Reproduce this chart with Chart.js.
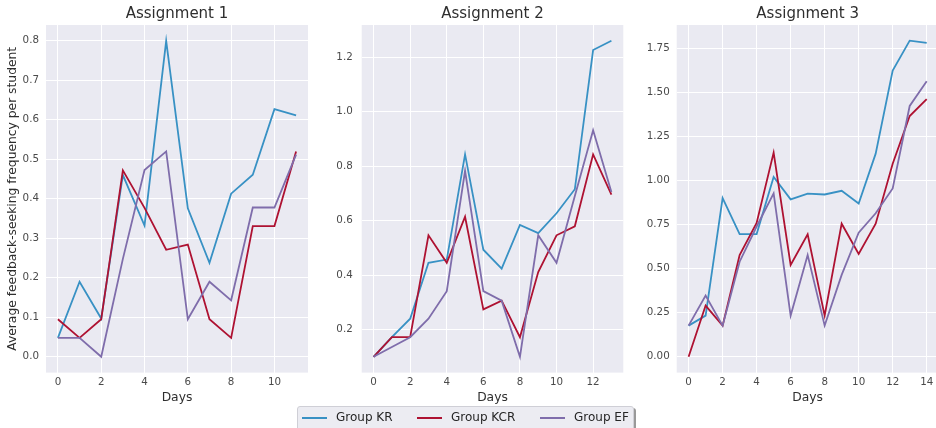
<!DOCTYPE html>
<html>
<head>
<meta charset="utf-8">
<script src="https://cdn.jsdelivr.net/npm/chart.js@4/dist/chart.umd.min.js"></script>
<style>
  html, body { margin: 0; padding: 0; background: #fff; }
  body { width: 936px; height: 428px; overflow: hidden; position: relative; font-family: "DejaVu Sans", sans-serif; }
  canvas { position: absolute; top: 0; }
  #legend {
    position: absolute; left: 297px; top: 406px; width: 335px; height: 30px;
    background: #ececf2; border: 1px solid #cfcfd6; border-radius: 3px;
    box-shadow: 2px 2px 0 rgba(0,0,0,0.4);
  }
  .item { position: absolute; top: 0; height: 22px; }
  .swatch { position: absolute; top: 10px; width: 25px; height: 0; border-top: 2px solid; }
  .label { position: absolute; top: 3px; left: 34px; font-size: 12px; color: #262626; white-space: nowrap; line-height: 14px; }
</style>
</head>
<body>
<canvas id="c1" width="320" height="410" style="left:0px"></canvas>
<canvas id="c2" width="320" height="410" style="left:310px"></canvas>
<canvas id="c3" width="310" height="410" style="left:630px"></canvas>
<div id="legend"></div>
<script>
// Daily average feedback-seeking frequency per student, by group
const seriesNames = ["Group KR", "Group KCR", "Group EF"];
const seriesColors = ["#3891C4", "#AE1232", "#7F6DAB"];

// Assignment 1 (days 0-11)
const days1 = [0, 1, 2, 3, 4, 5, 6, 7, 8, 9, 10, 11];
const kr1  = [0.048, 0.19, 0.097, 0.46, 0.332, 0.80, 0.376, 0.238, 0.413, 0.461, 0.627, 0.611];
const kcr1 = [0.095, 0.048, 0.095, 0.472, 0.377, 0.271, 0.284, 0.095, 0.048, 0.331, 0.331, 0.52];
const ef1  = [0.048, 0.048, 0.0, 0.248, 0.473, 0.52, 0.095, 0.19, 0.143, 0.378, 0.378, 0.512];

// Assignment 2 (days 0-13)
const days2 = [0, 1, 2, 3, 4, 5, 6, 7, 8, 9, 10, 11, 12, 13];
const kr2  = [0.10, 0.172, 0.24, 0.445, 0.457, 0.843, 0.493, 0.424, 0.584, 0.554, 0.627, 0.715, 1.226, 1.26];
const kcr2 = [0.10, 0.172, 0.172, 0.546, 0.445, 0.614, 0.274, 0.306, 0.172, 0.411, 0.546, 0.579, 0.843, 0.695];
const ef2  = [0.10, 0.136, 0.172, 0.24, 0.341, 0.783, 0.341, 0.306, 0.10, 0.546, 0.445, 0.69, 0.932, 0.705];

// Assignment 3 (days 0-14)
const days3 = [0, 1, 2, 3, 4, 5, 6, 7, 8, 9, 10, 11, 12, 13, 14];
const kr3  = [0.177, 0.234, 0.902, 0.697, 0.697, 1.022, 0.894, 0.927, 0.922, 0.943, 0.871, 1.154, 1.626, 1.796, 1.784];
const kcr3 = [0.0, 0.291, 0.177, 0.578, 0.76, 1.16, 0.522, 0.696, 0.234, 0.756, 0.584, 0.756, 1.097, 1.368, 1.464];
const ef3  = [0.177, 0.348, 0.177, 0.54, 0.74, 0.928, 0.234, 0.578, 0.177, 0.465, 0.705, 0.815, 0.956, 1.425, 1.566];

// Tick labels
const xTicks1 = [0, 2, 4, 6, 8, 10];
const xTicks2 = [0, 2, 4, 6, 8, 10, 12];
const xTicks3 = [0, 2, 4, 6, 8, 10, 12, 14];
const yTicks1 = [0.0, 0.1, 0.2, 0.3, 0.4, 0.5, 0.6, 0.7, 0.8];
const yTicks2 = [0.2, 0.4, 0.6, 0.8, 1.0, 1.2];
const yTicks3 = [0.0, 0.25, 0.5, 0.75, 1.0, 1.25, 1.5, 1.75];

const titles = ["Assignment 1", "Assignment 2", "Assignment 3"];
const xTitle = "Days";
const yTitle = "Average feedback-seeking frequency per student";

const FONT = "'DejaVu Sans', sans-serif";
const TICK_COLOR = "#4a4a4a";
const TEXT_COLOR = "#2e2e2e";

const panelBackground = {
  id: "panelBackground",
  beforeDraw(chart) {
    const { ctx, chartArea: a } = chart;
    ctx.save();
    ctx.fillStyle = "#EAEAF2";
    ctx.fillRect(a.left, a.top, a.right - a.left, a.bottom - a.top);
    ctx.restore();
  }
};

function makePanel(id, opts) {
  const groups = [opts.kr, opts.kcr, opts.ef];
  const datasets = groups.map((vals, i) => ({
    label: seriesNames[i],
    data: opts.days.map((d, j) => ({ x: d, y: vals[j] })),
    borderColor: seriesColors[i],
    backgroundColor: seriesColors[i],
    borderWidth: 1.8,
    pointRadius: 0,
    tension: 0,
    fill: false,
    order: 3 - i
  }));

  new Chart(document.getElementById(id), {
    type: "line",
    data: { datasets },
    options: {
      responsive: false,
      animation: false,
      events: [],
      layout: { padding: { left: 0, right: opts.padRight, top: 0, bottom: 0 } },
      plugins: {
        legend: { display: false },
        tooltip: { enabled: false },
        title: {
          display: true,
          text: opts.title,
          fullSize: false,
          color: TEXT_COLOR,
          font: { family: FONT, size: 15, weight: "normal" },
          padding: { top: 5, bottom: 2 }
        }
      },
      scales: {
        x: {
          type: "linear",
          min: opts.xMin,
          max: opts.xMax,
          afterFit(scale) { scale.height = 37.4; },
          afterBuildTicks(scale) { scale.ticks = opts.xTicks.map(v => ({ value: v })); },
          ticks: {
            color: TICK_COLOR,
            font: { family: FONT, size: 10.3 },
            padding: 4,
            maxRotation: 0,
            autoSkip: false,
            callback: v => String(v)
          },
          grid: { color: "#ffffff", lineWidth: 1, drawTicks: false },
          border: { display: false },
          title: {
            display: true,
            text: xTitle,
            color: TEXT_COLOR,
            font: { family: FONT, size: 12.3 },
            padding: { top: 0, bottom: 5.3 }
          }
        },
        y: {
          type: "linear",
          min: opts.yMin,
          max: opts.yMax,
          afterFit(scale) { scale.width = opts.yWidth; },
          afterBuildTicks(scale) { scale.ticks = opts.yTicks.map(v => ({ value: v })); },
          ticks: {
            color: TICK_COLOR,
            font: { family: FONT, size: 10.3 },
            padding: opts.yPad,
            autoSkip: false,
            callback: v => Number(v).toFixed(opts.decimals)
          },
          grid: { color: "#ffffff", lineWidth: 1, drawTicks: false },
          border: { display: false },
          title: {
            display: !!opts.showYTitle,
            text: yTitle,
            color: TEXT_COLOR,
            font: { family: FONT, size: 12.3 },
            padding: { top: 5, bottom: 0 }
          }
        }
      }
    },
    plugins: [panelBackground]
  });
}

makePanel("c1", {
  title: titles[0], days: days1, kr: kr1, kcr: kcr1, ef: ef1,
  xTicks: xTicks1, yTicks: yTicks1, decimals: 1,
  xMin: -0.55, xMax: 11.55, yMin: -0.04, yMax: 0.84,
  yWidth: 46, padRight: 12, yPad: 7, showYTitle: true
});
makePanel("c2", {
  title: titles[1], days: days2, kr: kr2, kcr: kcr2, ef: ef2,
  xTicks: xTicks2, yTicks: yTicks2, decimals: 1,
  xMin: -0.65, xMax: 13.65, yMin: 0.042, yMax: 1.318,
  yWidth: 51.7, padRight: 6.7, yPad: 9, showYTitle: false
});
makePanel("c3", {
  title: titles[2], days: days3, kr: kr3, kcr: kcr3, ef: ef3,
  xTicks: xTicks3, yTicks: yTicks3, decimals: 2,
  xMin: -0.7, xMax: 14.7, yMin: -0.09, yMax: 1.885,
  yWidth: 46.7, padRight: 1.4, yPad: 7, showYTitle: false
});

// Shared legend below the panels
const legend = document.getElementById("legend");
const itemOffsets = [4, 119, 242];
seriesNames.forEach((name, i) => {
  const item = document.createElement("div");
  item.className = "item";
  item.style.left = itemOffsets[i] + "px";
  const sw = document.createElement("div");
  sw.className = "swatch";
  sw.style.borderTopColor = seriesColors[i];
  const lb = document.createElement("div");
  lb.className = "label";
  lb.textContent = name;
  item.appendChild(sw);
  item.appendChild(lb);
  legend.appendChild(item);
});
</script>
</body>
</html>
